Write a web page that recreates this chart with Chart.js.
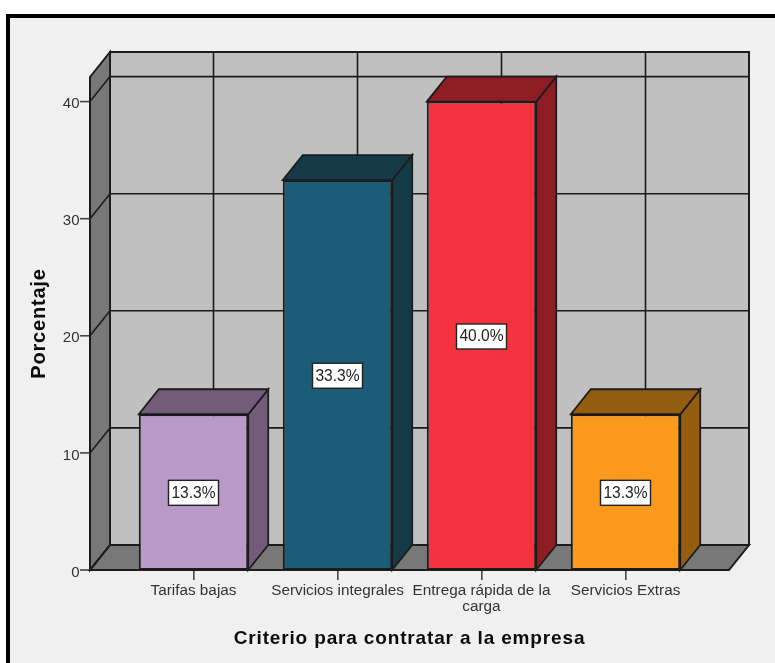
<!DOCTYPE html>
<html><head><meta charset="utf-8">
<style>html,body{margin:0;padding:0;background:#fff}canvas{display:block}</style>
<script src="https://cdn.jsdelivr.net/npm/chart.js@4/dist/chart.umd.min.js"></script>
</head><body><canvas id="c" width="775" height="663"></canvas>
<script>
const categories = ['Tarifas bajas','Servicios integrales',['Entrega rápida de la','carga'],'Servicios Extras'];
const values = [13.3,33.3,40.0,13.3];
const valueLabels = ['13.3%','33.3%','40.0%','13.3%'];
const frontColors = ['#b899c8','#1b5d76','#f5333f','#fb991c'];
const sideColors = ['#735b7a','#143a47','#8f1e24','#955d10'];
const yTicks = [0,10,20,30,40];

const DX = 20, DY = 25, SPILL = 31.5, LINE = '#1c1c1c';
const FONT = '"Liberation Sans", Arial, sans-serif';

function poly(ctx, pts, fill, stroke, lw){
  ctx.beginPath();
  pts.forEach((p,i)=> i?ctx.lineTo(p[0],p[1]):ctx.moveTo(p[0],p[1]));
  ctx.closePath();
  if(fill){ctx.fillStyle=fill;ctx.fill();}
  if(stroke){ctx.strokeStyle=stroke;ctx.lineWidth=lw||2;ctx.lineJoin='miter';ctx.stroke();}
}
function seg(ctx,x1,y1,x2,y2,c,lw){
  ctx.beginPath();ctx.moveTo(x1,y1);ctx.lineTo(x2,y2);ctx.strokeStyle=c||LINE;ctx.lineWidth=lw||1.6;ctx.stroke();
}
function spacedTitle(scale,spacing){
  if(scale.__spaced) return;
  scale.__spaced=true;
  const orig=scale.drawTitle;
  scale.drawTitle=function(){
    const c=this.ctx;c.save();c.letterSpacing=spacing;orig.call(this);c.restore();
  };
}

const frame = {
  id:'frame',
  beforeDraw(chart){
    const c=chart.ctx;
    c.save();
    c.fillStyle='#fff';c.fillRect(0,0,775,663);
    c.fillStyle='#f0f0f0';c.fillRect(6,14,769,649);
    c.fillStyle='#000';c.fillRect(6,14,769,4);c.fillRect(6,14,4,649);
    c.restore();
  }
};

const box3d = {
  id:'box3d',
  beforeDatasetsDraw(chart){
    const c=chart.ctx, {x:xs,y:ys}=chart.scales, a=chart.chartArea;
    const L=a.left-SPILL, R=a.right+SPILL, T=a.top, B=a.bottom;
    c.save();
    poly(c,[[L+DX,T-DY],[R+DX,T-DY],[R+DX,B-DY],[L+DX,B-DY]],'#c0c0c0');
    poly(c,[[L,T],[L+DX,T-DY],[L+DX,B-DY],[L,B]],'#787878');
    poly(c,[[L,B],[L+DX,B-DY],[R+DX,B-DY],[R,B]],'#787878');
    yTicks.forEach(v=>{
      const p=ys.getPixelForValue(v);
      seg(c,L,p,L+DX,p-DY);
      seg(c,L+DX,p-DY,R+DX,p-DY);
      seg(c,L-10,p,L,p,'#444');
    });
    categories.forEach((_,i)=>{
      const p=xs.getPixelForTick(i)+DX;
      seg(c,p,T-DY,p,B-DY);
    });
    poly(c,[[L+DX,T-DY],[R+DX,T-DY],[R+DX,B-DY],[L+DX,B-DY]],null,LINE,2);
    poly(c,[[L,T],[L+DX,T-DY],[L+DX,B-DY],[L,B]],null,LINE,2);
    poly(c,[[L,B],[L+DX,B-DY],[R+DX,B-DY],[R,B]],null,LINE,2);
    chart.getDatasetMeta(0).data.forEach((bar,i)=>{
      const l=bar.x-bar.width/2, r=bar.x+bar.width/2, t=bar.y, b=bar.base;
      poly(c,[[r,t],[r+DX,t-DY],[r+DX,b-DY],[r,b]],sideColors[i],LINE,1.8);
      poly(c,[[l,t],[l+DX,t-DY],[r+DX,t-DY],[r,t]],sideColors[i],LINE,1.8);
    });
    c.restore();
  },
  afterDatasetsDraw(chart){
    const c=chart.ctx;
    c.save();
    c.font='15.6px '+FONT;c.textAlign='center';c.textBaseline='middle';
    chart.getDatasetMeta(0).data.forEach((bar,i)=>{
      const my=(bar.y+bar.base)/2+0.7, w=50, h=25;
      c.fillStyle='#fff';c.fillRect(bar.x-w/2,my-h/2,w,h);
      c.strokeStyle='#222';c.lineWidth=1.4;c.strokeRect(bar.x-w/2,my-h/2,w,h);
      c.fillStyle='#222';c.fillText(valueLabels[i],bar.x,my+0.5);
    });
    c.restore();
  }
};

new Chart(document.getElementById('c'),{
  type:'bar',
  data:{labels:categories,datasets:[{
    data:values,backgroundColor:frontColors,borderColor:LINE,borderWidth:2,borderSkipped:false,
    categoryPercentage:1,barPercentage:0.76
  }]},
  options:{
    responsive:false,animation:false,devicePixelRatio:1,
    layout:{padding:{left:0,right:77.5,top:77,bottom:0}},
    plugins:{legend:{display:false},tooltip:{enabled:false},title:{display:false}},
    scales:{
      x:{
        afterFit(s){s.height=93;spacedTitle(s,'0.85px');},
        border:{display:false},
        grid:{drawOnChartArea:false,drawTicks:true,tickLength:10,offset:false,color:'#444',lineWidth:1.6},
        ticks:{autoSkip:false,maxRotation:0,minRotation:0,padding:3,color:'#333',font:{family:FONT,size:15.3,lineHeight:1.05}},
        title:{display:true,text:'Criterio para contratar a la empresa',color:'#0c0c0c',
          font:{family:FONT,size:19,weight:'bold',lineHeight:1.2},padding:{top:0,bottom:13}}
      },
      y:{
        min:0,max:42.1,
        afterFit(s){s.width=121.5;spacedTitle(s,'0.8px');},
        border:{display:false},
        grid:{display:false,drawTicks:false},
        ticks:{stepSize:10,includeBounds:false,padding:42,labelOffset:2.5,color:'#333',font:{family:FONT,size:15}},
        title:{display:true,text:'Porcentaje',color:'#0c0c0c',
          font:{family:FONT,size:20,weight:'bold',lineHeight:1.2},padding:{top:27,bottom:0}}
      }
    }
  },
  plugins:[frame,box3d]
});
</script></body></html>
